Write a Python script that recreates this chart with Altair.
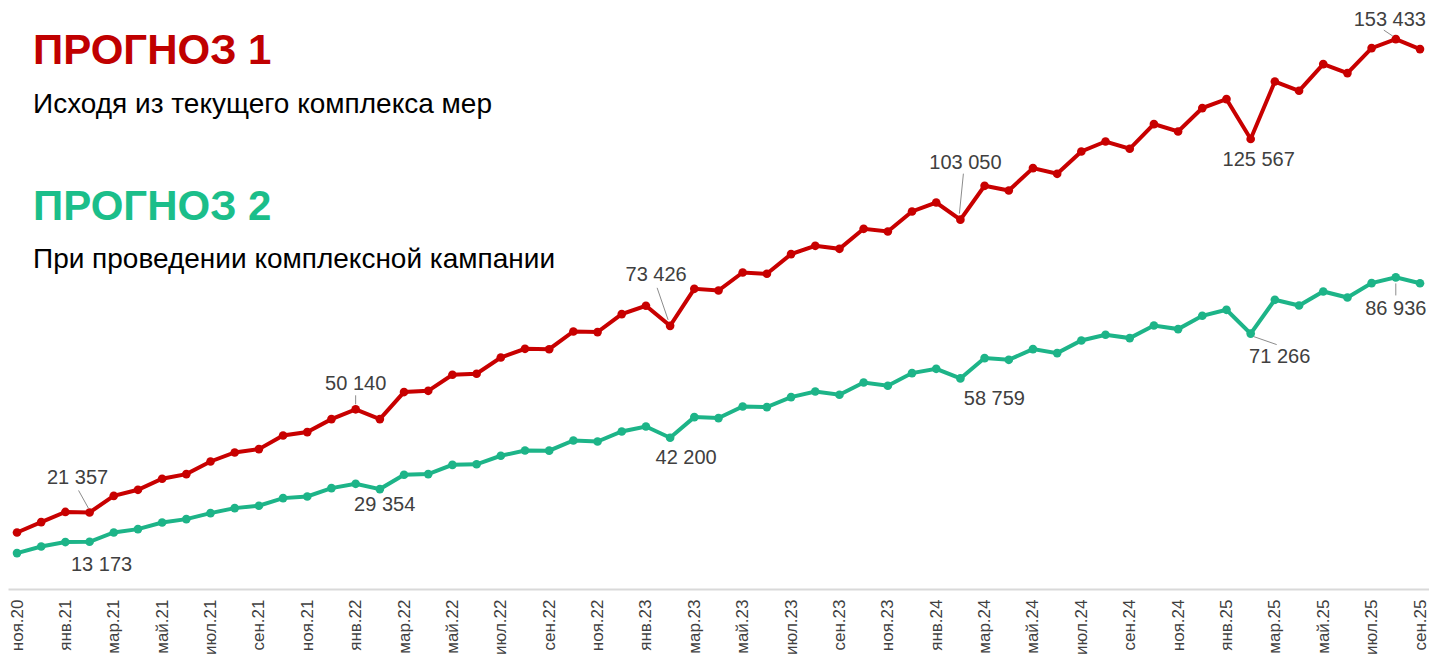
import altair as alt
import pandas as pd

months = [
    "ноя.20", "дек.20",
    "янв.21", "фев.21", "мар.21", "апр.21", "май.21", "июн.21", "июл.21", "авг.21", "сен.21", "окт.21", "ноя.21", "дек.21",
    "янв.22", "фев.22", "мар.22", "апр.22", "май.22", "июн.22", "июл.22", "авг.22", "сен.22", "окт.22", "ноя.22", "дек.22",
    "янв.23", "фев.23", "мар.23", "апр.23", "май.23", "июн.23", "июл.23", "авг.23", "сен.23", "окт.23", "ноя.23", "дек.23",
    "янв.24", "фев.24", "мар.24", "апр.24", "май.24", "июн.24", "июл.24", "авг.24", "сен.24", "окт.24", "ноя.24", "дек.24",
    "янв.25", "фев.25", "мар.25", "апр.25", "май.25", "июн.25", "июл.25", "авг.25", "сен.25",
]

forecast1 = [
    15770, 18670,
    21500, 21357, 26000, 27680, 30750, 32060, 35580, 38090, 39030, 42830, 43780, 47400,
    50140, 47400, 54950, 55300, 59770, 60050, 64590, 67020, 66900, 71850, 71680, 76700,
    79020, 73426, 83760, 83290, 88310, 87950, 93440, 95760, 94920, 100500, 99750, 105330,
    107840, 103050, 112500, 111190, 117440, 115850, 122070, 124860, 122830, 129720, 127650, 134180,
    136690, 125567, 141600, 139010, 146460, 143950, 150920, 153433, 150640,
]

forecast2 = [
    10020, 11860,
    13100, 13173, 15770, 16710, 18560, 19500, 21180, 22570, 23220, 25360, 25810, 28150,
    29354, 27880, 31890, 32060, 34650, 34800, 37170, 38650, 38600, 41430, 41160, 43950,
    45340, 42200, 47960, 47690, 50920, 50750, 53540, 55110, 54190, 57620, 56700, 60240,
    61440, 58759, 64430, 63950, 66940, 65820, 69340, 70930, 70010, 73520, 72520, 76230,
    77900, 71266, 80690, 79100, 83010, 81330, 85350, 86936, 85300,
]

series_names = ["ПРОГНОЗ 1", "ПРОГНОЗ 2"]
subtitles = ["Исходя из текущего комплекса мер", "При проведении комплексной кампании"]

# annotated points: (series number, month index)
ann_series = [1, 2, 1, 2, 1, 2, 1, 2, 1, 2, 1, 2]
ann_index = [3, 3, 14, 14, 27, 27, 39, 39, 51, 51, 57, 57]

# ---- styling / layout (not data) ----
RED = "#C80000"
GREEN = "#1DB488"
TITLE_RED = "#C00000"
TITLE_GREEN = "#1BBE8A"
FONT = "Liberation Sans"
W, H = 1421, 581
STEP = 1403 / 58.0
YMAX = 581 * 279.02

ann_dx = [-12, 12, 0, 29, -14, 16, 5, 34, 8, 29, -6, 0]
ann_dy = [-34, 23, -25, 21, -51, 20, -57, 21, 21, 23, -19, 32]
# leader lines in pixel offsets from point: (x1, y1, x2, y2); None = no leader
leaders = [(-1, -4, -11, -22), None, (0, -5, 0, -14), None, (-2, -6, -13, -38), None,
           (-1, -6, 3, -46), None, None, (3, 3, 26, 11), (-3, -3, -12, -9), (0, 6, 0, 18)]

vals = {1: forecast1, 2: forecast2}

rows = []
for i, m in enumerate(months):
    rows.append({"i": i, "month": m, "value": forecast1[i], "series": series_names[0]})
    rows.append({"i": i, "month": m, "value": forecast2[i], "series": series_names[1]})
df = pd.DataFrame(rows)

x_scale = alt.Scale(domain=[-9 / STEP, -9 / STEP + W / STEP], nice=False, zero=False)
y_scale = alt.Scale(domain=[0, YMAX], nice=False, zero=True)
label_js = "[" + ",".join("'" + m + "'" for m in months) + "]"
x_axis = alt.Axis(
    values=list(range(0, len(months), 2)),
    labelExpr=label_js + "[datum.value]",
    labelAngle=270, labelAlign="right", labelBaseline="middle",
    ticks=False, grid=False, domainColor="#D9D9D9", domainWidth=2,
    labelFontSize=17, labelColor="#404040", labelFont=FONT, labelPadding=10,
    title=None, labelOverlap=False,
)
color_scale = alt.Scale(domain=series_names, range=[RED, GREEN])

def xq(field):
    return alt.X(field, type="quantitative", scale=x_scale, axis=x_axis)

def yq(field):
    return alt.Y(field, type="quantitative", scale=y_scale, axis=None)

base = alt.Chart(df).encode(
    x=xq("i"), y=yq("value"),
    color=alt.Color("series:N", scale=color_scale, legend=None),
)
lines = base.mark_line(strokeWidth=4)
points = base.mark_circle(size=75, opacity=1)

layers = [lines, points]

for k in range(len(ann_index)):
    s = ann_series[k]
    idx = ann_index[k]
    v = vals[s][idx]
    txt = f"{v:,}".replace(",", " ")
    d = pd.DataFrame([{"i": idx, "value": v, "t": txt}])
    layers.append(
        alt.Chart(d).mark_text(
            dx=ann_dx[k], dy=ann_dy[k], fontSize=20, font=FONT, color="#404040",
            align="center", baseline="middle",
        ).encode(x=xq("i"), y=yq("value"), text="t:N")
    )
    if leaders[k] is not None:
        ox1, oy1, ox2, oy2 = leaders[k]
        ld = pd.DataFrame([{
            "x1": idx + ox1 / STEP, "x2": idx + ox2 / STEP,
            "y1": v - oy1 * 279.02, "y2": v - oy2 * 279.02,
        }])
        layers.append(
            alt.Chart(ld).mark_rule(color="#8C8C8C", strokeWidth=1).encode(
                x=xq("x1"), x2="x2", y=yq("y1"), y2="y2"
            )
        )

# Titles
title_specs = [
    (series_names[0], 56, 42, "bold", TITLE_RED),
    (subtitles[0], 105, 28, "normal", "#000000"),
    (series_names[1], 212, 42, "bold", TITLE_GREEN),
    (subtitles[1], 260, 28, "normal", "#000000"),
]
for text, yb, fs, fw, col in title_specs:
    layers.append(
        alt.Chart(pd.DataFrame({"t": [text]})).mark_text(
            align="left", baseline="alphabetic", fontSize=fs, fontWeight=fw,
            font=FONT, color=col,
        ).encode(text="t:N", x=alt.value(25), y=alt.value(yb))
    )

chart = alt.layer(*layers).properties(
    width=W, height=H,
    autosize=alt.AutoSizeParams(type="none"),
    padding={"left": 0, "top": 0, "right": 0, "bottom": 70},
    background="white",
).configure_view(strokeWidth=0)

chart.save("out.html", embed_options={"renderer": "svg", "actions": False})
